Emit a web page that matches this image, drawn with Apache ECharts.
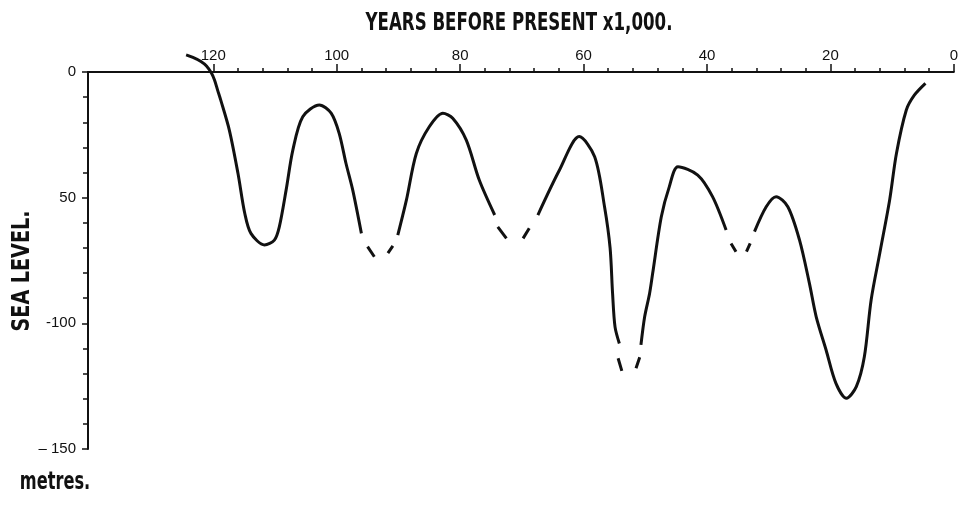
<!DOCTYPE html>
<html>
<head>
<meta charset="utf-8">
<script src="https://cdn.jsdelivr.net/npm/echarts@6/dist/echarts.min.js"></script>
<style>
html,body{margin:0;padding:0;background:#fff;}
#chart{width:961px;height:506px;}
</style>
</head>
<body>
<div id="chart"></div>
<script>
// Age in thousands of years before present (null = gap in the drawn curve)
const years = [
  124.4,123.3,122.0,121.1,120.3,119.8,119.3,118.8,117.4,116.0,114.9,113.9,111.7,110.1,109.3,108.2,107.1,105.5,102.8,100.9,99.6,98.5,97.4,96.0, null,
  95.0,93.9, null,
  91.7,90.9, null,
  90.1,88.7,87.1,85.0,82.8,81.2,79.0,76.9,74.4, null,
  73.9,72.5, null,
  69.8,68.8, null,
  67.4,63.9,60.7,58.2,56.6,55.7,55.3,54.9,54.2, null,
  54.4,53.8, null,
  51.5,50.9, null,
  50.7,50.1,49.3,48.8,47.4,46.1,44.7,41.5,39.1,36.9, null,
  36.1,35.3, null,
  33.6,33.0, null,
  32.3,30.4,28.8,26.9,25.0,23.4,22.3,20.7,19.1,17.4,15.8,14.5,13.4,12.0,10.4,9.3,7.7,6.4,4.6
];
// Sea level in metres relative to present
const seaLevel = [
  6.8,5.8,4.2,2.4,-0.4,-3.2,-7.2,-11.1,-23.1,-40.3,-56.2,-64.2,-68.8,-66.9,-61.6,-47.0,-31.0,-17.8,-13.1,-16.4,-24.4,-36.3,-47.0,-64.2, null,
  -69.5,-73.5, null,
  -72.1,-69.2, null,
  -64.9,-50.9,-32.4,-21.8,-16.4,-18.4,-27.1,-43.0,-56.9, null,
  -61.6,-66.2, null,
  -66.2,-62.2, null,
  -56.9,-39.0,-25.7,-33.7,-53.6,-70.0,-88.0,-101.4,-108.0, null,
  -113.9,-118.9, null,
  -117.9,-113.5, null,
  -108.6,-97.4,-88.1,-80.1,-57.6,-45.6,-37.7,-41.0,-49.6,-62.9, null,
  -68.2,-71.5, null,
  -71.5,-68.2, null,
  -63.5,-53.6,-49.6,-53.6,-66.9,-84.1,-97.4,-110.6,-123.9,-129.8,-125.2,-113.3,-90.7,-72.1,-50.9,-32.4,-15.1,-9.2,-4.5
];
const xMajorTicks = [0,20,40,60,80,100,120];
const xMinorTicks = [0,4,8,12,16,20,24,28,32,36,40,44,48,52,56,60,64,68,72,76,80,84,88,92,96,100,104,108,112,116,120];
const yTickLabels = {'0':'0','-50':'50','-100':'-100','-150':'– 150'};

const data = years.map((y, i) => (y === null ? ['-', '-'] : [y, seaLevel[i]]));

const condensed = "'Liberation Sans Narrow','DejaVu Sans Condensed','Roboto Condensed',sans-serif";
const chart = echarts.init(document.getElementById('chart'), null, {renderer: 'canvas'});
chart.setOption({
  backgroundColor: '#ffffff',
  animation: false,
  grid: {left: 88, right: 7, top: 72, bottom: 57, containLabel: false},
  xAxis: [{
    type: 'value', position: 'top', inverse: true, min: 0, max: 140.3,
    splitLine: {show: false},
    axisLine: {show: true, onZero: false, lineStyle: {color: '#111', width: 2}},
    axisTick: {show: true, customValues: xMinorTicks, length: 4, lineStyle: {color: '#111', width: 1.5}},
    axisLabel: {show: true, customValues: xMajorTicks, margin: 9, color: '#111', fontSize: 15,
      fontFamily: "'Liberation Sans', Arial, sans-serif"}
  }, {
    type: 'value', position: 'top', inverse: true, min: 0, max: 140.3,
    splitLine: {show: false},
    axisLine: {show: false},
    axisTick: {show: true, customValues: xMajorTicks, length: 8, lineStyle: {color: '#111', width: 1.5}},
    axisLabel: {show: false}
  }],
  yAxis: {
    type: 'value', min: -150, max: 0, interval: 50,
    splitLine: {show: false},
    axisLine: {show: true, onZero: false, lineStyle: {color: '#111', width: 2}},
    axisTick: {show: true, length: 6, lineStyle: {color: '#111', width: 1.5}},
    minorTick: {show: true, splitNumber: 5, length: 5, lineStyle: {color: '#111', width: 1.5}},
    axisLabel: {margin: 12, color: '#111', fontSize: 15, fontFamily: "'Liberation Sans', Arial, sans-serif",
      formatter: v => yTickLabels[String(v)] ?? ''}
  },
  graphic: [
    {type: 'text', x: 519, y: 23, scaleX: 0.74, style: {text: 'YEARS BEFORE PRESENT x1,000.', fill: '#111',
      font: 'bold 25px ' + condensed, textAlign: 'center', textVerticalAlign: 'middle'}},
    {type: 'text', x: 22, y: 271, rotation: Math.PI / 2, scaleX: 0.85, style: {text: 'SEA LEVEL.', fill: '#111',
      font: 'bold 25px ' + condensed, textAlign: 'center', textVerticalAlign: 'middle'}},
    {type: 'text', x: 55, y: 482, scaleX: 0.72, style: {text: 'metres.', fill: '#111',
      font: 'bold 25px ' + condensed, textAlign: 'center', textVerticalAlign: 'middle'}}
  ],
  series: [{
    type: 'line', xAxisIndex: 0, data: data, smooth: 0.3, showSymbol: false, symbol: 'none',
    connectNulls: false, clip: false,
    lineStyle: {color: '#111', width: 3, cap: 'butt'}
  }]
});
</script>
</body>
</html>
